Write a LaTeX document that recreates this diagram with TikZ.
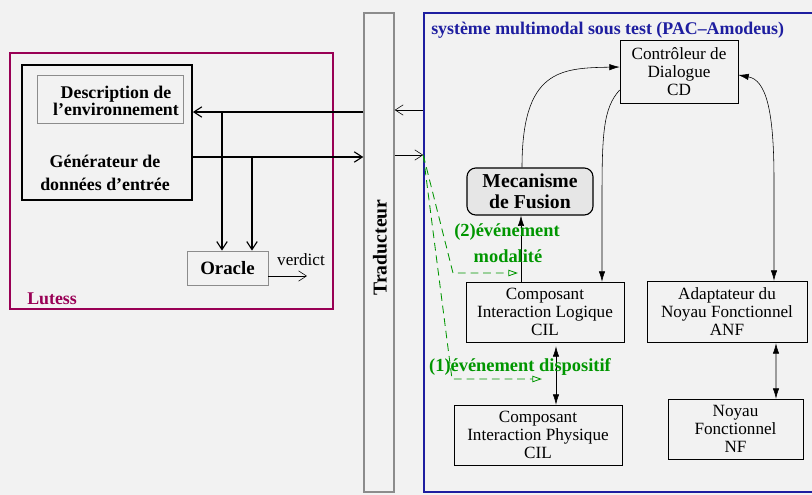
\documentclass[tikz,border=0pt]{standalone}
\usepackage{fontspec}
\setmainfont{Liberation Serif}
\usetikzlibrary{arrows.meta,positioning,calc}

\definecolor{bgray}{RGB}{242,242,242}
\definecolor{fgray}{RGB}{230,230,230}
\definecolor{lgray}{RGB}{140,140,140}
\definecolor{lutesscol}{RGB}{153,0,85}
\definecolor{syscol}{RGB}{30,30,160}
\definecolor{evtcol}{RGB}{0,150,0}

\begin{document}
\begin{tikzpicture}[x=0.025cm, y=-0.025cm, >=Latex]

\tikzset{
  block/.style={
    rectangle, draw, thin, align=center, inner sep=0pt,
    font=\fontsize{12.2}{12.8}\selectfont
  },
  bblock/.style={
    rectangle, align=center, inner sep=0pt,
    font=\fontsize{12.7}{12.1}\selectfont\bfseries
  },
  frame/.style={rectangle, draw, line width=1pt, inner sep=0pt},
  arrow/.style={-{Latex[length=2.6mm,width=1.6mm]}, thin},
  darrow/.style={{Latex[length=2.6mm,width=1.6mm]}-{Latex[length=2.6mm,width=1.6mm]}, thin},
  openarrow/.style={-{Straight Barb[length=2mm,width=2.6mm]}, thick},
  evtarrow/.style={-{Triangle[open,length=2.4mm,width=1.6mm]}, evtcol,
    semithick, dash pattern=on 5.5pt off 3.5pt},
  evtlabel/.style={font=\fontsize{13.1}{13}\selectfont\bfseries, text=evtcol, inner sep=0pt}
}

\fill[bgray] (0,0) rectangle (812,495);
\useasboundingbox (0,0) rectangle (812,495);

% =========================================================
% Lutess: generator, environment and oracle
% =========================================================
\node[frame, draw=lutesscol, minimum width=8.075cm, minimum height=6.4cm] (lutess) at (171.5,181) {};
\node[bblock, text=lutesscol, anchor=west] (lutesslbl) at (27,299) {Lutess};

\node[frame, line width=1.2pt, minimum width=4.25cm, minimum height=3.375cm] (gen) at (107,132.5) {};
\node[block, draw=lgray, semithick, minimum width=3.65cm, minimum height=1.2cm] (desc) at (110,99) {};
\node[bblock] (desctxt) at (116,101) {Description de\\l'environnement};
\node[bblock, font=\fontsize{12.7}{16.4}\selectfont\bfseries] (gentxt) at (105,173) {Générateur de\\données d'entrée};

\node[block, draw=lgray, semithick, minimum width=2.025cm, minimum height=0.85cm,
  font=\fontsize{13.4}{13}\selectfont\bfseries] (oracle) at (227.5,268) {Oracle};
\node[block, draw=none] (verdict) at (301,260) {verdict};

% =========================================================
% Traducteur
% =========================================================
\node[frame, draw=lgray, minimum width=0.75cm, minimum height=11.975cm] (trad) at (379,252.5) {};
\node[bblock, rotate=90, font=\fontsize{14}{14}\selectfont\bfseries] (tradtxt) at (380,247.5) {Traducteur};

% =========================================================
% System under test (PAC-Amodeus)
% =========================================================
\node[frame, draw=syscol, minimum width=9.8cm, minimum height=11.975cm] (sys) at (620,252.5) {};
\node[bblock, text=syscol, anchor=west] (systitle) at (431,30) {système multimodal sous test (PAC–Amodeus)};

\node[block, minimum width=2.95cm, minimum height=1.575cm] (cd) at (679,71.5) {Contrôleur de\\Dialogue\\CD};
\node[block, rounded corners=2.2mm, thick, fill=fgray, minimum width=3.15cm, minimum height=1.175cm,
  font=\fontsize{14}{15}\selectfont\bfseries] (fusion) at (530,191.5) {Mecanisme\\de Fusion};
\node[block, minimum width=3.95cm, minimum height=1.5cm] (cil) at (545,312) {Composant\\Interaction Logique\\CIL};
\node[block, minimum width=4.0cm, minimum height=1.525cm] (anf) at (727,311.5) {Adaptateur du\\Noyau Fonctionnel\\ANF};
\node[block, minimum width=4.2cm, minimum height=1.5cm] (cip) at (538,435) {Composant\\Interaction Physique\\CIL};
\node[block, minimum width=3.375cm, minimum height=1.5cm] (nf) at (735.5,429) {Noyau\\Fonctionnel\\NF};

% =========================================================
% Connectors: Lutess <-> Traducteur <-> system
% =========================================================
\coordinate (tin) at (trad.west |- 0,112);
\coordinate (tout) at (trad.west |- 0,157);
\coordinate (sin) at (sys.west |- 0,110);
\coordinate (sout) at (sys.west |- 0,155);
\coordinate (b1) at (222,112);
\coordinate (b2) at (252,157);
\coordinate (vend) at (307,276);

\draw[openarrow] (tin) -- (tin -| gen.east);
\draw[openarrow] (tout -| gen.east) -- (tout);
\draw[openarrow] (b1) -- (b1 |- oracle.north);
\draw[openarrow] (b2) -- (b2 |- oracle.north);
\draw[openarrow, thin] (vend -| oracle.east) -- (vend);

\draw[openarrow, thin] (sin) -- (sin -| trad.east);
\draw[openarrow, thin] (sout -| trad.east) -- (sout);

% =========================================================
% Connectors inside the system
% =========================================================
\draw[arrow] ($(fusion.north)+(-8,0)$) .. controls (522,70) and (560,68) .. ($(cd.west)+(0,-4.5)$);
\draw[arrow] ($(cil.north)+(-24,0)$) -- ($(fusion.south)+(-9,0)$);
\draw[arrow] ($(cd.west)+(0,18.5)$) .. controls (603,108) and (602,135) .. (602,200) -- ($(cil.north)+(57,0)$);
\draw[darrow] ($(cd.east)+(0,3.5)$) .. controls (766,80) and (774,110) .. (774,180) -- ($(anf.north)+(47,0)$);
\draw[darrow] ($(cil.south)+(11,4)$) -- ($(cip.north)+(18,0)$);
\draw[darrow] ($(anf.south)+(49,1)$) -- ($(nf.north)+(40.5,0)$);

% =========================================================
% Events (dashed)
% =========================================================
\coordinate (modend) at (518,273);
\coordinate (dispend) at (542,379);
\draw[evtarrow] (sout) -- (453,273) -- (modend);
\draw[evtarrow] (sout) -- (452,379) -- (dispend);

\node[evtlabel] (modlbl1) at (507,232) {(2)événement};
\node[evtlabel] (modlbl2) at (508,256) {modalité};
\node[evtlabel] (displbl) at (520,367) {(1)événement dispositif};

\end{tikzpicture}
\end{document}
